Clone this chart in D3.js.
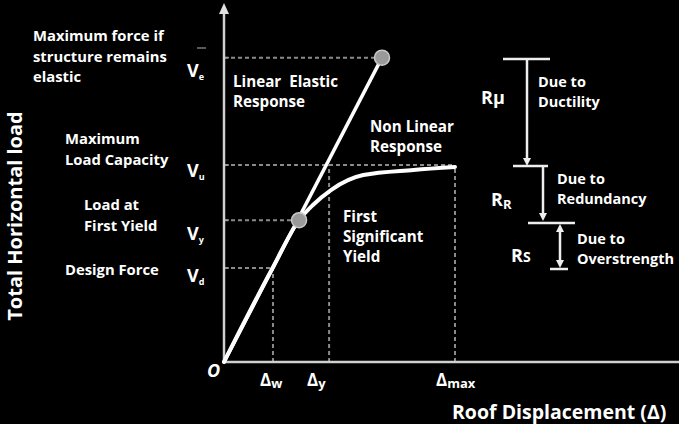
<!DOCTYPE html>
<html><head><meta charset="utf-8">
<script src="https://cdn.jsdelivr.net/npm/d3@7"></script>
<style>
html,body{margin:0;padding:0;background:#000;}
svg{display:block;}
text{font-family:"Open Sans",sans-serif;fill:#fff;font-weight:700;}
</style></head><body>
<script>
// ---- data ----
const curveX = [0, 2.08, 3.25, 3.85, 4.63, 6.03, 8.2, 10];
const curveY = [0, 0.472, 0.72, 0.797, 0.873, 0.949, 0.975, 0.99];
const elasticX = [0, 6.84];
const elasticY = [0, 1.545];
const loadNames = ["e", "u", "y", "d"];
const loadValues = [1.545, 1.0, 0.72, 0.477];
const loadDashEndX = [6.84, 10, 3.25, 2.12];
const dispNames = ["w", "y", "max"];
const dispValues = [2.12, 4.55, 10];
const dispDashTopY = [0.477, 1.0, 0.99];
const leftLabels = [
  ["Maximum force if", "structure remains", "elastic"],
  ["Maximum", "Load Capacity"],
  ["Load at", "First Yield"],
  ["Design Force"]
];

const W = 679, H = 424;
const svg = d3.select("body").append("svg").attr("width", W).attr("height", H);
svg.append("rect").attr("width", W).attr("height", H).attr("fill", "#000");

const x = d3.scaleLinear().domain([0, 10]).range([224, 455]);
const y = d3.scaleLinear().domain([0, 1]).range([362, 165]);

// dashed guides
const dashCol = "#8a8a8a";
loadValues.forEach((v, i) => {
  svg.append("line").attr("x1", x(0)).attr("x2", x(loadDashEndX[i]))
    .attr("y1", y(v)).attr("y2", y(v))
    .attr("stroke", dashCol).attr("stroke-width", 2).attr("stroke-dasharray", "4,3");
  svg.append("line").attr("x1", x(0) - 1).attr("x2", x(0) + 5)
    .attr("y1", y(v)).attr("y2", y(v)).attr("stroke", "#999").attr("stroke-width", 1.5);
});
dispValues.forEach((v, i) => {
  svg.append("line").attr("x1", x(v)).attr("x2", x(v))
    .attr("y1", y(0)).attr("y2", y(dispDashTopY[i]))
    .attr("stroke", dashCol).attr("stroke-width", 2).attr("stroke-dasharray", "4,3");
});

// axes
svg.append("line").attr("x1", x(0)).attr("x2", x(0)).attr("y1", y(0) + 1).attr("y2", 12)
  .attr("stroke", "#d0d0d0").attr("stroke-width", 2.5);
svg.append("path").attr("d", `M${x(0)},3 L${x(0) - 5},14 L${x(0) + 5},14 Z`).attr("fill", "#e0e0e0");
svg.append("line").attr("x1", x(0)).attr("x2", W).attr("y1", y(0)).attr("y2", y(0))
  .attr("stroke", "#d0d0d0").attr("stroke-width", 2.5);
// small stray mark above Ve
svg.append("line").attr("x1", 197).attr("x2", 206).attr("y1", 48).attr("y2", 48)
  .attr("stroke", "#777").attr("stroke-width", 1.5);

// elastic line
svg.append("line").attr("x1", x(elasticX[0])).attr("y1", y(elasticY[0]))
  .attr("x2", x(elasticX[1])).attr("y2", y(elasticY[1]))
  .attr("stroke", "#fff").attr("stroke-width", 3.5);

// nonlinear curve
const pts = curveX.map((d, i) => [x(d), y(curveY[i])]);
svg.append("path").attr("d", d3.line().curve(d3.curveMonotoneX)(pts))
  .attr("fill", "none").attr("stroke", "#fff").attr("stroke-width", 4).attr("stroke-linecap", "round");

// circles
[[elasticX[1], elasticY[1]], [curveX[2], curveY[2]]].forEach(p => {
  svg.append("circle").attr("cx", x(p[0])).attr("cy", y(p[1])).attr("r", 7.5)
    .attr("fill", "#9a9a9a").attr("stroke", "#c8c8c8").attr("stroke-width", 1.5);
});

// V labels
const vBase = [77, 177, 240, 282];
loadNames.forEach((n, i) => {
  const t = svg.append("text").attr("x", 187).attr("y", vBase[i]).attr("font-size", 18).attr("font-weight", 600);
  t.append("tspan").text("V");
  t.append("tspan").attr("font-size", 9).attr("dy", 3).text(n);
});

// Δ labels
const dLabelX = [260, 307, 436];
dispNames.forEach((n, i) => {
  const t = svg.append("text").attr("x", dLabelX[i]).attr("y", 386).attr("font-size", 17).attr("font-weight", 600);
  t.append("tspan").text("Δ");
  t.append("tspan").attr("font-size", 13).attr("dy", 2).text(n);
});
svg.append("text").attr("x", 207).attr("y", 377).attr("font-size", 18).attr("font-style", "italic").text("O");

// left annotations
const leftPos = [[33, 41], [65, 144], [84, 210], [65, 275]];
leftLabels.forEach((lines, i) => {
  lines.forEach((s, j) => {
    svg.append("text").attr("x", leftPos[i][0]).attr("y", leftPos[i][1] + j * 20.5)
      .attr("font-size", 14.8).text(s);
  });
});

// inner annotations
const inner = [
  [233, 87, ["Linear  Elastic", "Response"]],
  [370, 132, ["Non Linear", "Response"]],
  [343, 222, ["First", "Significant", "Yield"]]
];
inner.forEach(([px, py, lines]) => {
  lines.forEach((s, j) => {
    svg.append("text").attr("x", px).attr("y", py + j * 20).attr("font-size", 15.2)
      .style("white-space", "pre").text(s);
  });
});

// axis titles
svg.append("text").attr("transform", "translate(22,216) rotate(-90)")
  .attr("text-anchor", "middle").attr("font-size", 20).text("Total Horizontal load");
svg.append("text").attr("x", 452).attr("y", 419).attr("font-size", 19.5).text("Roof Displacement (Δ)");

// right side R factors
const wc = "#eee";
function seg(x1, y1, x2, y2, w) {
  svg.append("line").attr("x1", x1).attr("y1", y1).attr("x2", x2).attr("y2", y2)
    .attr("stroke", wc).attr("stroke-width", w || 2.5);
}
function headDown(cx, ty) {
  svg.append("path").attr("d", `M${cx - 4},${ty - 8} L${cx + 4},${ty - 8} L${cx},${ty} Z`).attr("fill", wc);
}
function headUp(cx, ty) {
  svg.append("path").attr("d", `M${cx - 4},${ty + 8} L${cx + 4},${ty + 8} L${cx},${ty} Z`).attr("fill", wc);
}
seg(503, 59, 550, 59);
seg(527, 59, 527, 158); headDown(527, 166);
seg(513, 166, 548, 166);
seg(543, 166, 543, 213); headDown(543, 221);
seg(528, 223, 575, 223);
seg(560, 231, 560, 261); headUp(560, 224); headDown(560, 268);
seg(550, 269, 568, 269);

const rT = [[481, 104, "R", "μ", 18, 0], [491, 206, "R", "R", 13, 3], [511, 262, "R", "S", 14, 0]];
rT.forEach(([px, py, a, b, fs, dy]) => {
  const t = svg.append("text").attr("x", px).attr("y", py).attr("font-size", 18).attr("font-weight", 500);
  t.append("tspan").text(a);
  t.append("tspan").attr("font-size", fs).attr("dy", dy).text(b);
});
const rDesc = [[538, 87, ["Due to", "Ductility"]], [557, 184, ["Due to", "Redundancy"]], [577, 244, ["Due to", "Overstrength"]]];
rDesc.forEach(([px, py, lines]) => {
  lines.forEach((s, j) => {
    svg.append("text").attr("x", px).attr("y", py + j * 20).attr("font-size", 14.5).text(s);
  });
});
</script>
</body></html>
